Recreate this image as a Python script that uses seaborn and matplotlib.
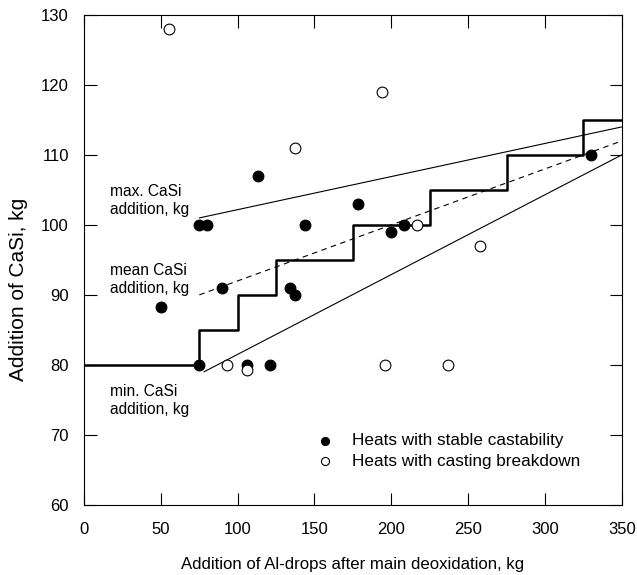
import numpy as np
import pandas as pd
import matplotlib
matplotlib.use("Agg")
import matplotlib.pyplot as plt
import seaborn as sns

# Datos
estable_x = [50, 75, 75, 80, 90, 106, 113, 121, 134, 137, 144, 178, 200, 208, 330]
estable_y = [88.2, 80, 100, 100, 91, 80, 107, 80, 91, 90, 100, 103, 99, 100, 110]

ruptura_x = [55, 93, 106, 137, 194, 196, 217, 237, 258]
ruptura_y = [128, 80, 79.2, 111, 119, 80, 100, 80, 97]

# Rectas de adicion max / media / min
max_x = [75, 350]
max_y = [101, 114]
media_x = [75, 350]
media_y = [90, 112]
min_x = [78, 350]
min_y = [79, 110]

# Escalera de adicion practica
escalon_x = [0, 75, 100, 125, 175, 225, 275, 325, 350]
escalon_y = [80, 85, 90, 95, 100, 105, 110, 115, 115]

sns.set_theme(style="ticks")
plt.rcParams['font.family'] = ['Liberation Sans', 'DejaVu Sans']
plt.rcParams['text.color'] = 'black'
plt.rcParams['axes.labelcolor'] = 'black'

df_est = pd.DataFrame({"x": estable_x, "y": estable_y})
df_rup = pd.DataFrame({"x": ruptura_x, "y": ruptura_y})

fig = plt.figure(figsize=(6.37, 5.75), dpi=100)
ax = fig.add_axes([0.132, 0.122, 0.844, 0.852])

ax.step(escalon_x, escalon_y, where='post', color='black', lw=1.8, zorder=2)
sns.lineplot(x=max_x, y=max_y, ax=ax, color='black', lw=0.8)
sns.lineplot(x=min_x, y=min_y, ax=ax, color='black', lw=0.8)
sns.lineplot(x=media_x, y=media_y, ax=ax, color='black', lw=0.8, linestyle=(0, (5, 4)))

sns.scatterplot(data=df_est, x="x", y="y", ax=ax, color='black', edgecolor='black',
                s=60, linewidth=0.8, zorder=3, label='Heats with stable castability')
sns.scatterplot(data=df_rup, x="x", y="y", ax=ax, facecolor='white', edgecolor='black',
                s=60, linewidth=0.8, zorder=4, label='Heats with casting breakdown')

for yy, txt in [(105.9, 'max. CaSi\naddition, kg'),
                (94.5, 'mean CaSi\naddition, kg'),
                (77.3, 'min. CaSi\naddition, kg')]:
    ax.text(17, yy, txt, fontsize=11.2, va='top', linespacing=1.25)

ax.set_xlim(0, 350)
ax.set_ylim(60, 130)
ax.set_xticks(np.arange(0, 351, 50))
ax.set_yticks(np.arange(60, 131, 10))
ax.tick_params(direction='in', length=9, width=0.8, top=True, right=True,
               labelsize=12, colors='black')
ax.tick_params(axis='x', pad=12)
ax.tick_params(axis='y', pad=11)
for s in ax.spines.values():
    s.set_linewidth(0.8)
    s.set_color('black')

ax.set_xlabel('Addition of Al-drops after main deoxidation, kg', fontsize=12.1, labelpad=15)
ax.set_ylabel('Addition of CaSi, kg', fontsize=15, labelpad=9, y=0.44)

ax.legend(loc='center left', bbox_to_anchor=(0.433, 0.11), frameon=False, fontsize=12.3,
          markerscale=0.75, handlelength=1.0, handletextpad=1.05, labelspacing=0.3,
          borderaxespad=0, borderpad=0)

fig.savefig('out.png', dpi=100)
